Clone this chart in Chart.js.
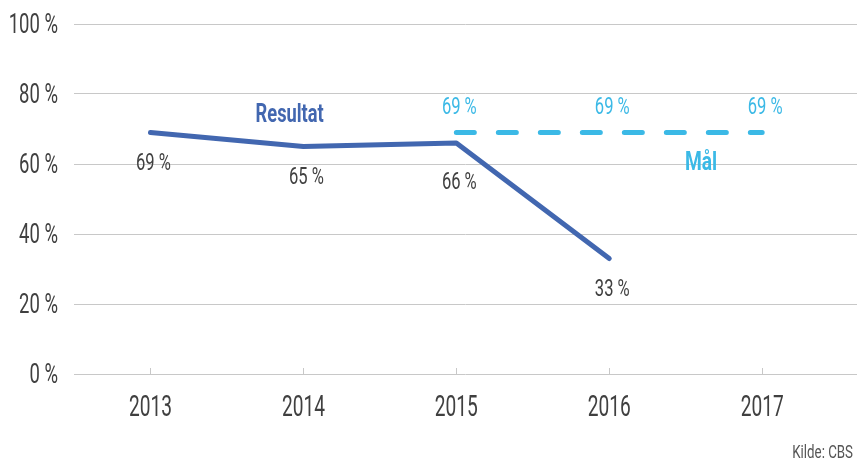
<!DOCTYPE html>
<html lang="no">
<head>
  <meta charset="UTF-8" />
  <title>Resultat og mål</title>
  <script src="https://cdn.jsdelivr.net/npm/chart.js"></script>
  <style>
    body { margin: 0; background: #fff; }
    canvas { display: block; }
  </style>
</head>
<body>
  <canvas id="chart" width="857" height="464"></canvas>
  <script>
    const FONT = "Roboto, 'Liberation Sans', sans-serif";
    const GREY = '#404040';
    const DARK = '#4267b0';
    const LIGHT = '#3bb9e6';

    // data
    const years = [2013, 2014, 2015, 2016, 2017];
    const resultat = [69, 65, 66, 33, null];
    const maal = [null, null, 69, 69, 69];

    const toPoints = arr => years.map((x, i) => ({ x: x, y: arr[i] })).filter(p => p.y !== null);

    // narrow text: the original uses a condensed face, so squeeze horizontally
    function narrowText(c, text, x, y, font, color, align, sx) {
      c.save();
      c.translate(x, y);
      c.scale(sx, 1);
      c.font = font;
      c.fillStyle = color;
      c.textAlign = align;
      c.textBaseline = 'middle';
      c.fillText(text, 0, 0);
      c.restore();
    }

    // tick labels drawn from the scales' own ticks
    const axisText = {
      id: 'axisText',
      afterDraw(chart) {
        const c = chart.ctx, xs = chart.scales.x, ys = chart.scales.y;
        ys.ticks.forEach(t => {
          narrowText(c, t.value + ' %', 58, ys.getPixelForValue(t.value) + 2,
            '28px ' + FONT, GREY, 'right', 0.66);
        });
        xs.ticks.forEach(t => {
          narrowText(c, String(t.value), xs.getPixelForValue(t.value), 409,
            '29px ' + FONT, GREY, 'center', 0.66);
        });
        narrowText(c, 'Kilde: CBS', chart.width - 4, 453, '19px ' + FONT, '#555', 'right', 0.7);
      }
    };

    // tiny ticks above the 0 % line, under each year
    const yearTicks = {
      id: 'yearTicks',
      afterDatasetsDraw(chart) {
        const c = chart.ctx, xs = chart.scales.x, bottom = chart.chartArea.bottom;
        c.save();
        c.strokeStyle = '#c8c8c8';
        c.lineWidth = 1;
        years.forEach(y => {
          const px = Math.round(xs.getPixelForValue(y)) + 0.5;
          c.beginPath();
          c.moveTo(px, bottom - 6);
          c.lineTo(px, bottom);
          c.stroke();
        });
        c.restore();
      }
    };

    // value labels and series names
    const labels = {
      id: 'labels',
      afterDatasetsDraw(chart) {
        const c = chart.ctx, xs = chart.scales.x, ys = chart.scales.y;
        const res = toPoints(resultat);
        chart.getDatasetMeta(0).data.forEach((pt, i) => {
          const off = i === 2 ? 40 : 31;
          narrowText(c, res[i].y + ' %', pt.x + 3, pt.y + off, '24px ' + FONT, GREY, 'center', 0.69);
        });
        const tgt = toPoints(maal);
        chart.getDatasetMeta(1).data.forEach((pt, i) => {
          narrowText(c, tgt[i].y + ' %', pt.x + 3, pt.y - 25, '24px ' + FONT, LIGHT, 'center', 0.69);
        });
        narrowText(c, 'Resultat', xs.getPixelForValue(2013.91), ys.getPixelForValue(73.8),
          'bold 25px ' + FONT, DARK, 'center', 0.73);
        narrowText(c, 'Mål', xs.getPixelForValue(2016.6), ys.getPixelForValue(60.2),
          'bold 25px ' + FONT, LIGHT, 'center', 0.77);
      }
    };

    new Chart(document.getElementById('chart'), {
      type: 'line',
      data: {
        datasets: [
          {
            label: 'Resultat',
            data: toPoints(resultat),
            borderColor: DARK,
            borderWidth: 5,
            borderCapStyle: 'round',
            borderJoinStyle: 'round',
            pointRadius: 0,
            tension: 0
          },
          {
            label: 'Mål',
            data: toPoints(maal),
            borderColor: LIGHT,
            borderWidth: 5,
            borderDash: [18, 24],
            borderCapStyle: 'round',
            pointRadius: 0,
            tension: 0
          }
        ]
      },
      options: {
        responsive: false,
        animation: false,
        layout: { padding: { top: 24, left: 0, right: 0, bottom: 0 } },
        plugins: { legend: { display: false }, tooltip: { enabled: false } },
        scales: {
          x: {
            type: 'linear',
            min: 2012.5,
            max: 2017.62,
            afterFit: s => { s.height = 90; },
            afterBuildTicks: s => { s.ticks = years.map(v => ({ value: v })); },
            grid: { display: false },
            border: { display: false },
            ticks: { display: false }
          },
          y: {
            min: 0,
            max: 100,
            afterFit: s => { s.width = 74; },
            grid: { color: '#c8c8c8', lineWidth: 1, drawTicks: false },
            border: { display: false },
            ticks: { display: false, stepSize: 20 }
          }
        }
      },
      plugins: [yearTicks, labels, axisText]
    });
  </script>
</body>
</html>
